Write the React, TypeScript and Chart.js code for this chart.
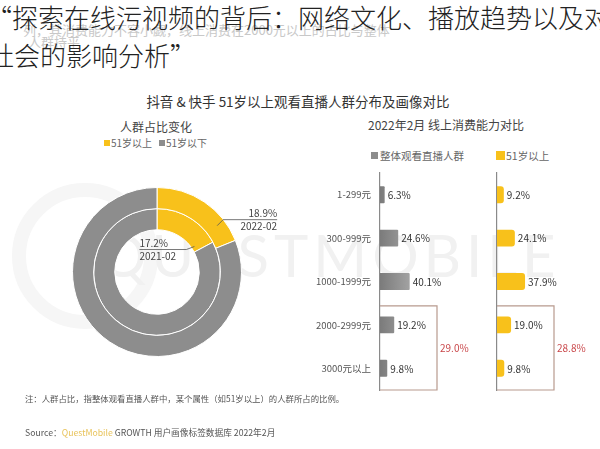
import React, { useEffect, useRef } from 'react';
import { Chart, registerables } from 'chart.js';
Chart.register(...registerables);

const FONT = '"Noto Sans CJK SC", "Noto Sans", sans-serif';
Chart.defaults.font.family = FONT;

// ---- data ----
const ringLabels = ['2022-02', '2021-02'];
const over51Share = [18.9, 17.2];
const groupLabels = ['51岁以上', '51岁以下'];

const spendCategories = ['1-299元', '300-999元', '1000-1999元', '2000-2999元', '3000元以上'];
const allViewers = [6.3, 24.6, 40.1, 19.2, 9.8];
const over51 = [9.2, 24.1, 37.9, 19.0, 9.8];
const highSpendTotals = [29.0, 28.8];
const seriesNames = ['整体观看直播人群', '51岁以上'];

const YELLOW = '#f8c11b';
const GRAY = '#8d8d8d';

function Donut() {
  const ref = useRef<HTMLCanvasElement>(null);
  useEffect(() => {
    const labelPlugin = {
      id: 'ringLabels',
      afterDatasetsDraw(chart: any) {
        const ctx = chart.ctx;
        ctx.save();
        ctx.font = `10px ${FONT}`;
        ctx.fillStyle = '#444';
        ctx.strokeStyle = '#555';
        ctx.lineWidth = 0.8;
        // outer ring label
        const a0 = chart.getDatasetMeta(0).data[0];
        const p0 = a0.getProps(['x', 'y', 'startAngle', 'endAngle', 'innerRadius', 'outerRadius']);
        const ang0 = p0.startAngle + (p0.endAngle - p0.startAngle) * 0.77;
        const r0 = (p0.innerRadius + p0.outerRadius) / 2 + 2;
        const ax = p0.x + r0 * Math.cos(ang0), ay = p0.y + r0 * Math.sin(ang0);
        const ex = ax + 6, ey = ay - 6, endX = ex + 54;
        ctx.beginPath(); ctx.moveTo(ax, ay); ctx.lineTo(ex, ey); ctx.lineTo(endX, ey); ctx.stroke();
        ctx.textAlign = 'right';
        ctx.textBaseline = 'bottom';
        ctx.fillText(over51Share[0].toFixed(1) + '%', endX, ey - 1);
        ctx.textBaseline = 'top';
        ctx.fillText(ringLabels[0], endX, ey + 2);
        // inner ring label
        const a1 = chart.getDatasetMeta(1).data[0];
        const p1 = a1.getProps(['x', 'y', 'startAngle', 'endAngle', 'innerRadius', 'outerRadius']);
        const ang1 = p1.startAngle + (p1.endAngle - p1.startAngle) * 0.9;
        const r1 = p1.innerRadius + 3;
        const bx = p1.x + r1 * Math.cos(ang1), by = p1.y + r1 * Math.sin(ang1);
        const fx = bx - 8, fy = by + 3, endX1 = fx - 47;
        ctx.beginPath(); ctx.moveTo(bx, by); ctx.lineTo(fx, fy); ctx.lineTo(endX1, fy); ctx.stroke();
        ctx.textAlign = 'left';
        ctx.textBaseline = 'bottom';
        ctx.fillText(over51Share[1].toFixed(1) + '%', endX1, fy - 1);
        ctx.textBaseline = 'top';
        ctx.fillText(ringLabels[1], endX1, fy + 2);
        ctx.restore();
      },
    };
    const chart = new Chart(ref.current!, {
      type: 'doughnut',
      data: {
        labels: groupLabels,
        datasets: [
          { label: ringLabels[0], data: [over51Share[0], 100 - over51Share[0]], backgroundColor: [YELLOW, GRAY], borderColor: '#fff', borderWidth: 1 },
          { label: ringLabels[1], data: [over51Share[1], 100 - over51Share[1]], backgroundColor: [YELLOW, GRAY], borderColor: '#fff', borderWidth: 1 },
        ],
      },
      options: {
        responsive: false,
        animation: false,
        events: [],
        cutout: '50%',
        layout: { padding: { left: 32, right: 58, top: 17, bottom: 18 } },
        plugins: { legend: { display: false }, tooltip: { enabled: false } },
        elements: { arc: { hoverOffset: 0, offset: 0 } as any },
      },
      plugins: [labelPlugin],
    });
    return () => chart.destroy();
  }, []);
  return <canvas ref={ref} width={260} height={205} style={{ position: 'absolute', left: 40, top: 170, width: 260, height: 205 }} />;
}

function Bars(props: { values: number[]; yellow: boolean; total: number; showLabels: boolean; left: number; width: number; axisW: number; padRight: number }) {
  const ref = useRef<HTMLCanvasElement>(null);
  useEffect(() => {
    const { values, yellow, total, showLabels, axisW, padRight } = props;
    const plugin = {
      id: 'annot',
      afterDatasetsDraw(chart: any) {
        const ctx = chart.ctx;
        const area = chart.chartArea;
        const y = chart.scales.y;
        ctx.save();
        // value labels
        ctx.font = `10px ${FONT}`;
        ctx.fillStyle = '#333';
        ctx.textAlign = 'left';
        ctx.textBaseline = 'middle';
        chart.getDatasetMeta(0).data.forEach((bar: any, i: number) => {
          ctx.fillText(values[i].toFixed(1) + '%', bar.x + 3, bar.y + 0.5);
        });
        // highlight box
        const top = y.getPixelForValue(3) - 19;
        const bottom = area.bottom;
        ctx.strokeStyle = '#b89a8e';
        ctx.lineWidth = 1.2;
        ctx.beginPath();
        ctx.moveTo(area.left, top);
        ctx.lineTo(area.right, top);
        ctx.lineTo(area.right, bottom);
        ctx.lineTo(area.left, bottom);
        ctx.stroke();
        ctx.fillStyle = '#c9474a';
        ctx.fillText(total.toFixed(1) + '%', area.right + 3, (top + bottom) / 2);
        ctx.restore();
      },
    };
    const chart = new Chart(ref.current!, {
      type: 'bar',
      data: {
        labels: spendCategories,
        datasets: [
          {
            data: values,
            backgroundColor: yellow
              ? YELLOW
              : (c: any) => {
                  const area = c.chart.chartArea;
                  if (!area) return GRAY;
                  const g = c.chart.ctx.createLinearGradient(area.left, 0, area.left + 30, 0);
                  g.addColorStop(0, '#7b7b7b');
                  g.addColorStop(1, '#a2a2a2');
                  return g;
                },
            borderRadius: yellow ? 3 : 1,
            barPercentage: 0.39,
            categoryPercentage: 1,
          },
        ],
      },
      options: {
        indexAxis: 'y',
        responsive: false,
        animation: false,
        events: [],
        layout: { padding: { left: 0, right: padRight, top: 8, bottom: 10 } },
        plugins: { legend: { display: false }, tooltip: { enabled: false } },
        scales: {
          x: { display: false, min: 0, max: 77 },
          y: {
            grid: { display: false, drawTicks: false },
            border: { display: true, color: '#8a8a8a', width: 1.2 },
            ticks: { display: showLabels, color: '#555', font: { size: 9.5, family: FONT }, padding: 9 },
            afterFit: (s: any) => { s.width = axisW; s.paddingTop = 0; s.paddingBottom = 0; },
          },
        },
      },
      plugins: [plugin],
    });
    return () => chart.destroy();
  }, []);
  return <canvas ref={ref} width={props.width} height={235} style={{ position: 'absolute', left: props.left, top: 165, width: props.width, height: 235 }} />;
}

const abs = (left: number, top: number, size: number, color: string, extra: any = {}) => ({
  position: 'absolute' as const, left, top, fontSize: size, lineHeight: 1, color, whiteSpace: 'nowrap' as const, fontFamily: FONT, ...extra,
});

export default function App() {
  return (
    <div style={{ position: 'fixed', left: 0, top: 0, width: 600, height: 449, overflow: 'hidden', background: '#fff', fontFamily: FONT }}>
      <div style={{ position: 'absolute', left: 12, top: 183, width: 118, height: 118, borderRadius: '50%', border: '14px solid #f6f6f6' }} />
      <div style={abs(100, 226, 58, '#f1f1f1', { letterSpacing: 5, fontFamily: 'Lato, sans-serif' })}>QUESTMOBILE</div>
      <div style={abs(23, 22.5, 13, '#c8c8c8')}>列，其消费能力不容小觑，线上消费在2000元以上的占比与整体</div>
      <div style={abs(28, 35, 13, '#c8c8c8')}>人群持平</div>
      <div style={abs(-14, 4, 26, '#222', { fontWeight: 300 })}>“探索在线污视频的背后：网络文化、播放趋势以及对</div>
      <div style={abs(-12, 42, 26, '#222', { fontWeight: 300 })}>社会的影响分析”</div>

      <div style={abs(0, 95, 13.5, '#333', { width: 596, textAlign: 'center' })}>抖音 &amp; 快手 51岁以上观看直播人群分布及画像对比</div>

      <div style={abs(120, 121, 12, '#444')}>人群占比变化</div>
      <div style={{ position: 'absolute', left: 104, top: 140, width: 6, height: 6, background: YELLOW }} />
      <div style={abs(111, 138, 10, '#666')}>{groupLabels[0]}</div>
      <div style={{ position: 'absolute', left: 159, top: 140, width: 6, height: 6, background: GRAY }} />
      <div style={abs(166, 138, 10, '#666')}>{groupLabels[1]}</div>

      <div style={abs(368, 119, 12, '#444')}>2022年2月 线上消费能力对比</div>
      <div style={{ position: 'absolute', left: 371, top: 152, width: 7, height: 7, background: GRAY }} />
      <div style={abs(380, 150.5, 10.5, '#666')}>{seriesNames[0]}</div>
      <div style={{ position: 'absolute', left: 496, top: 151, width: 9, height: 9, background: YELLOW }} />
      <div style={abs(506, 150.5, 10.5, '#666')}>{seriesNames[1]}</div>

      <Donut />
      <Bars values={allViewers} yellow={false} total={highSpendTotals[0]} showLabels={true} left={300} width={180} axisW={80} padRight={43} />
      <Bars values={over51} yellow={true} total={highSpendTotals[1]} showLabels={false} left={490} width={110} axisW={7} padRight={46} />

      <div style={abs(25, 394, 8.4, '#555')}>注：人群占比，指整体观看直播人群中，某个属性（如51岁以上）的人群所占的比例。</div>
      <div style={abs(25, 429, 8.7, '#555')}>
        Source：<span style={{ color: '#e8c35a' }}>QuestMobile</span> GROWTH 用户画像标签数据库 2022年2月
      </div>
    </div>
  );
}
